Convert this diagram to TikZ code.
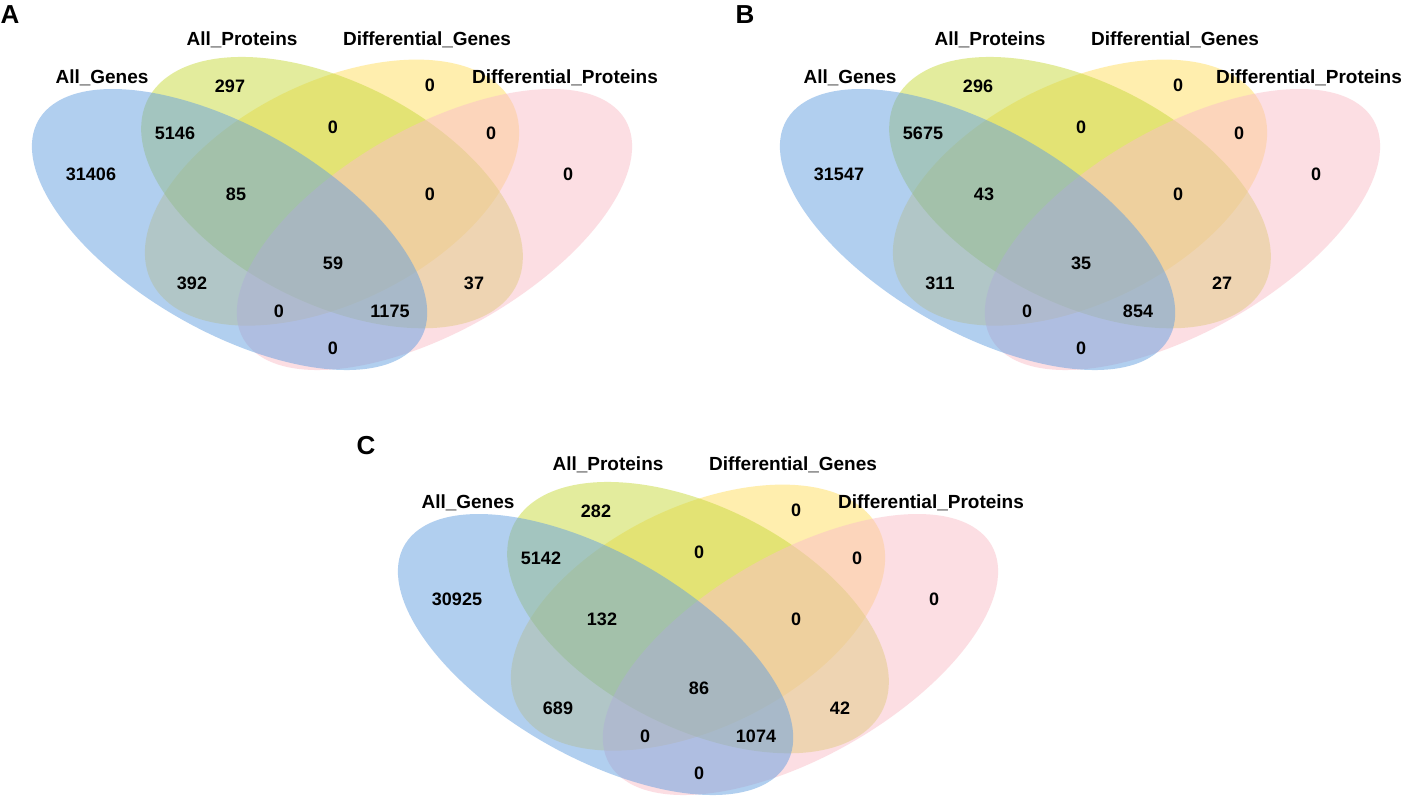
\documentclass[tikz,border=0pt]{standalone}
\usepackage{fontspec}
\setmainfont{Liberation Sans}
\definecolor{bluec}{RGB}{100,160,225}
\definecolor{greenc}{RGB}{200,218,60}
\definecolor{yellowc}{RGB}{255,222,95}
\definecolor{pinkc}{RGB}{250,190,200}
% #1 = x of unit origin (px), #2 = y offset of panel (px), #3 = horizontal scale (px per unit)
\newcommand\vennshapes[3]{%
\begin{scope}[shift={(#1,-#2-457.7)}, xscale=#3, yscale=485.5]
 \fill[setfill=yellowc, shift={(0.5,0.546)}, rotate=45] (0,0) ellipse (0.33 and 0.203);
 \fill[setfill=greenc, shift={(0.5,0.546)}, rotate=135] (0,0) ellipse (0.339 and 0.203);
 \fill[setfill=pinkc, shift={(0.65,0.47)}, rotate=45] (0,0) ellipse (0.365 and 0.185);
 \fill[setfill=bluec, shift={(0.35,0.47)}, rotate=135] (0,0) ellipse (0.365 and 0.185);
\end{scope}}
\begin{document}
\begin{tikzpicture}[x=0.5pt,y=0.5pt,
  setfill/.style={fill=#1, fill opacity=0.5},
  num/.style={font=\bfseries\fontsize{9}{10}\selectfont, inner sep=0pt},
  cat/.style={font=\bfseries\fontsize{9.5}{11}\selectfont, inner sep=0pt},
  letter/.style={font=\bfseries\fontsize{13}{15}\selectfont, inner sep=0pt}]
\fill[white] (0,0) rectangle (1403,-798);
\useasboundingbox (0,0) rectangle (1403,-798);
% ---------- Panel A ----------
\vennshapes{-9.5}{0}{683}
\node[letter] (A-let) at (10,-15) {A};
\begin{scope}[shift={(0,0)}]
\node[cat] (A-c1) at (102,-78) {All\_Genes};
\node[cat] (A-c2) at (242,-40) {All\_Proteins};
\node[cat] (A-c3) at (427,-40) {Differential\_Genes};
\node[cat] (A-c4) at (565,-78) {Differential\_Proteins};
\node[num] (A-r1) at (230,-86) {297};
\node[num] (A-r2) at (430,-85) {0};
\node[num] (A-r3) at (333,-127) {0};
\node[num] (A-r4) at (175,-133) {5146};
\node[num] (A-r5) at (491,-133) {0};
\node[num] (A-r6) at (91,-174) {31406};
\node[num] (A-r7) at (568,-174) {0};
\node[num] (A-r8) at (236,-194) {85};
\node[num] (A-r9) at (430,-194) {0};
\node[num] (A-r10) at (333,-263) {59};
\node[num] (A-r11) at (192,-283) {392};
\node[num] (A-r12) at (474,-283) {37};
\node[num] (A-r13) at (279,-311) {0};
\node[num] (A-r14) at (390,-311) {1175};
\node[num] (A-r15) at (333,-348) {0};
\end{scope}
% ---------- Panel B ----------
\vennshapes{738.5}{0}{683}
\node[letter] (B-let) at (745,-15) {B};
\begin{scope}[shift={(748,0)}]
\node[cat] (B-c1) at (102,-78) {All\_Genes};
\node[cat] (B-c2) at (242,-40) {All\_Proteins};
\node[cat] (B-c3) at (427,-40) {Differential\_Genes};
\node[cat] (B-c4) at (561,-78) {Differential\_Proteins};
\node[num] (B-r1) at (230,-86) {296};
\node[num] (B-r2) at (430,-85) {0};
\node[num] (B-r3) at (333,-127) {0};
\node[num] (B-r4) at (175,-133) {5675};
\node[num] (B-r5) at (491,-133) {0};
\node[num] (B-r6) at (91,-174) {31547};
\node[num] (B-r7) at (568,-174) {0};
\node[num] (B-r8) at (236,-194) {43};
\node[num] (B-r9) at (430,-194) {0};
\node[num] (B-r10) at (333,-263) {35};
\node[num] (B-r11) at (192,-283) {311};
\node[num] (B-r12) at (474,-283) {27};
\node[num] (B-r13) at (279,-311) {0};
\node[num] (B-r14) at (390,-311) {854};
\node[num] (B-r15) at (333,-348) {0};
\end{scope}
% ---------- Panel C ----------
\vennshapes{356.5}{425}{683}
\node[letter] (C-let) at (366,-446) {C};
\begin{scope}[shift={(366,-425)}]
\node[cat] (C-c1) at (102,-78) {All\_Genes};
\node[cat] (C-c2) at (242,-40) {All\_Proteins};
\node[cat] (C-c3) at (427,-40) {Differential\_Genes};
\node[cat] (C-c4) at (565,-78) {Differential\_Proteins};
\node[num] (C-r1) at (230,-86) {282};
\node[num] (C-r2) at (430,-85) {0};
\node[num] (C-r3) at (333,-127) {0};
\node[num] (C-r4) at (175,-133) {5142};
\node[num] (C-r5) at (491,-133) {0};
\node[num] (C-r6) at (91,-174) {30925};
\node[num] (C-r7) at (568,-174) {0};
\node[num] (C-r8) at (236,-194) {132};
\node[num] (C-r9) at (430,-194) {0};
\node[num] (C-r10) at (333,-263) {86};
\node[num] (C-r11) at (192,-283) {689};
\node[num] (C-r12) at (474,-283) {42};
\node[num] (C-r13) at (279,-311) {0};
\node[num] (C-r14) at (390,-311) {1074};
\node[num] (C-r15) at (333,-348) {0};
\end{scope}
\end{tikzpicture}
\end{document}
